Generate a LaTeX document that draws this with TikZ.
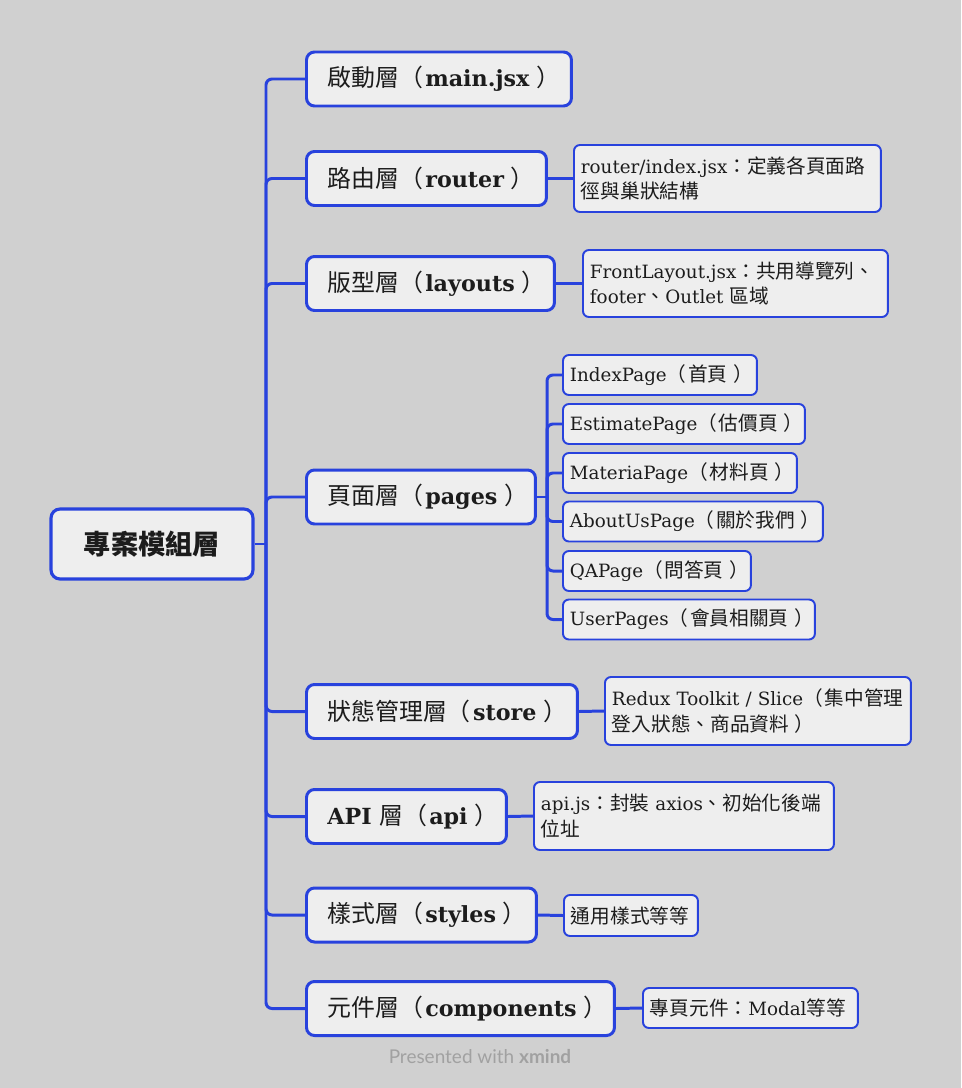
\documentclass[tikz,border=0pt]{standalone}
\usepackage{fontspec}
\setmainfont{DejaVu Serif}[Scale=0.93]
\newfontfamily\cjk{Noto Sans CJK TC}
\newfontfamily\xmfont{Lato}
\usepackage{tikz}
\usetikzlibrary{positioning}
\definecolor{bgray}{RGB}{208,208,208}
\definecolor{boxfill}{RGB}{238,238,238}
\definecolor{xblue}{RGB}{40,66,221}
\definecolor{ink}{RGB}{28,28,28}
\newcommand\zh[1]{{\cjk #1}}
\newcommand\lay[2]{\mbox{\zh{#1（}\hspace{0.1em}\textbf{#2}\hspace{0.3em}\zh{）}}}
\newcommand\pg[2]{\mbox{#1\zh{（}\hspace{0.1em}\zh{#2}\hspace{0.3em}\zh{）}}}
\tikzstyle{root}=[rectangle,rounded corners=0.18cm,draw=xblue,fill=boxfill,line width=1.8pt,minimum width=4.04cm,minimum height=1.4cm,text=ink,font=\fontsize{15.5}{18}\selectfont]
\tikzstyle{layer}=[rectangle,rounded corners=0.16cm,draw=xblue,fill=boxfill,line width=1.7pt,minimum height=1.08cm,inner xsep=0.42cm,inner ysep=0pt,align=left,anchor=west,text=ink,font=\fontsize{13.6}{17}\selectfont]
\tikzstyle{detail}=[rectangle,rounded corners=0.12cm,draw=xblue,fill=boxfill,line width=1.1pt,minimum height=0.8cm,inner xsep=0.14cm,inner ysep=0pt,align=left,anchor=west,text=ink,font=\fontsize{11.2}{14.7}\selectfont]
\tikzstyle{branch}=[draw=xblue,line width=1.7pt,rounded corners=0.12cm]
\tikzset{every picture/.style={
    x=0.02cm,y=-0.02cm
  }
}
\begin{document}
\begin{tikzpicture}
        \fill[bgray] (0,0) rectangle (961,1088);
        \useasboundingbox (0,0) rectangle (961,1088);
        \node[root] at (152,544) (mod) {\zh{\bfseries 專案模組層}};
        \node[layer,text width=4.46cm] at (305,79) (main) {\lay{啟動層}{main.jsx}};
        \node[layer,text width=3.96cm] at (305,178.5) (router) {\lay{路由層}{router}};
        \node[layer,text width=4.12cm] at (305,283.5) (layouts) {\lay{版型層}{layouts}};
        \node[layer,text width=3.74cm] at (305,497) (pages) {\lay{頁面層}{pages}};
        \node[layer,text width=4.58cm] at (305,711.5) (store) {\lay{狀態管理層}{store}};
        \node[layer,text width=3.16cm] at (305,816.5) (api) {\mbox{\textbf{API} \lay{層}{api}}};
        \node[layer,text width=3.76cm] at (305,915) (styles) {\lay{樣式層}{styles}};
        \node[layer,text width=5.32cm] at (305,1008.5) (comps) {\lay{元件層}{components}};
        \node[detail,text width=5.86cm,minimum height=1.34cm] at (573,178.5) (routerdoc) {router/index.jsx\zh{：定義各頁面路}\\\zh{徑與巢狀結構}};
        \node[detail,text width=5.82cm,minimum height=1.34cm] at (582,283.5) (layoutsdoc) {FrontLayout.jsx\zh{：共用導覽列、}\\footer\zh{、}Outlet \zh{區域}};
        \node[detail,text width=3.6cm] at (562,375) (p1) {\pg{IndexPage}{首頁}};
        \node[detail,text width=4.56cm] at (562,424) (p2) {\pg{EstimatePage}{估價頁}};
        \node[detail,text width=4.4cm] at (562,473) (p3) {\pg{MateriaPage}{材料頁}};
        \node[detail,text width=4.92cm] at (562,521.5) (p4) {\pg{AboutUsPage}{關於我們}};
        \node[detail,text width=3.48cm] at (562,571) (p5) {\pg{QAPage}{問答頁}};
        \node[detail,text width=4.76cm] at (562,619.5) (p6) {\pg{UserPages}{會員相關頁}};
        \node[detail,text width=5.84cm,minimum height=1.36cm] at (604,711) (storedoc) {\mbox{Redux Toolkit / Slice\zh{（}\hspace{0.1em}\zh{集中管理}}\\\mbox{\zh{登入狀態、商品資料}\hspace{0.3em}\zh{）}}};
        \node[detail,text width=5.72cm,minimum height=1.36cm] at (533,816) (apidoc) {api.js\zh{：封裝} axios\zh{、初始化後端}\\\zh{位址}};
        \node[detail,text width=2.4cm,minimum height=0.82cm] at (563,915.5) (stylesdoc) {\zh{通用樣式等等}};
        \node[detail,text width=4.02cm] at (642,1008) (compsdoc) {\zh{專頁元件：}Modal\zh{等等}};
        \node[text=black!37,font=\xmfont\fontsize{10.8}{12}\selectfont] at (480,1057) (credit) {Presented with \textbf{xmind}};
        \coordinate (sp) at (266,544);
        \coordinate (ps) at (547,497);
        \draw[branch] (mod.east) -- (sp);
        \foreach \n in {main,router,layouts,pages,store,api,styles,comps}
          \draw[branch] (sp) |- (\n.west);
        \draw[branch] (pages.east) -- (ps);
        \foreach \n in {p1,p2,p3,p4,p5,p6}
          \draw[branch] (ps) |- (\n.west);
        \draw[branch] (router.east) -- (routerdoc.west);
        \draw[branch] (layouts.east) -- (layoutsdoc.west);
        \draw[branch] (store.east) -- (storedoc.west);
        \draw[branch] (api.east) -- (apidoc.west);
        \draw[branch] (styles.east) -- (stylesdoc.west);
        \draw[branch] (comps.east) -- (compsdoc.west);
      \end{tikzpicture}
\end{document}
